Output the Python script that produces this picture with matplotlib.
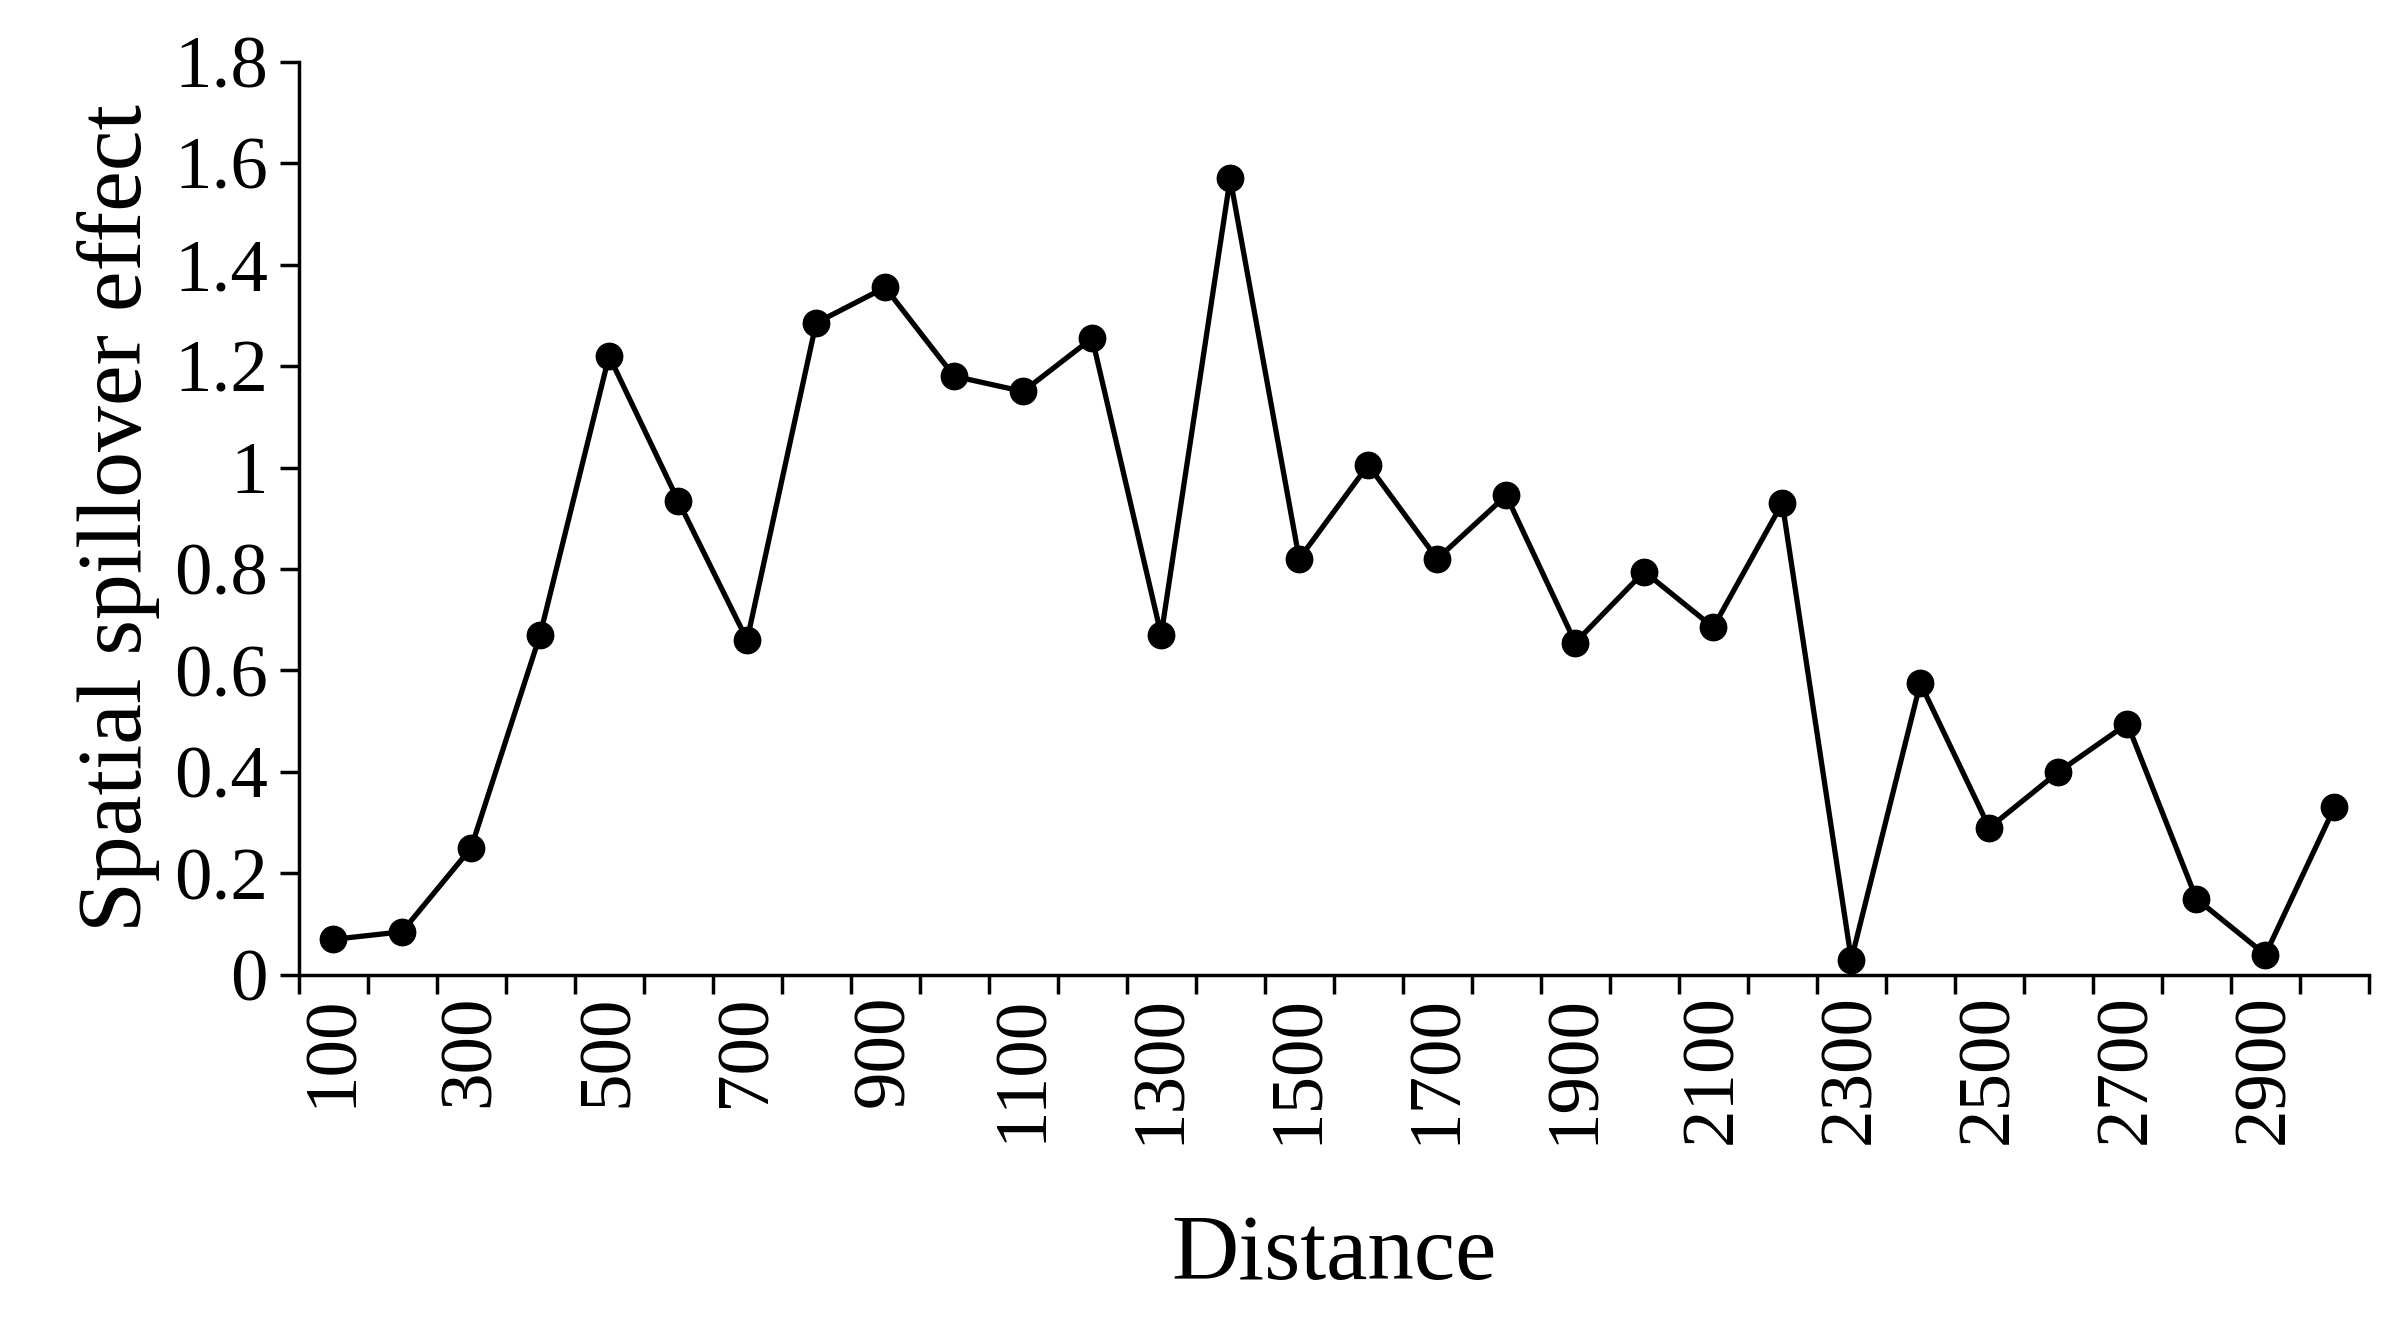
import matplotlib
matplotlib.use("Agg")
import matplotlib.pyplot as plt
import numpy as np

distances = [100,200,300,400,500,600,700,800,900,1000,1100,1200,1300,1400,1500,
             1600,1700,1800,1900,2000,2100,2200,2300,2400,2500,2600,2700,2800,2900,3000]
effects = [0.07,0.085,0.25,0.67,1.22,0.935,0.66,1.285,1.355,1.18,1.15,1.255,0.67,1.57,0.82,
           1.005,0.82,0.945,0.655,0.795,0.685,0.93,0.03,0.575,0.29,0.40,0.495,0.15,0.04,0.33]

plt.rcParams['font.family'] = ['Liberation Serif', 'DejaVu Serif']
fig = plt.figure(figsize=(23.88, 13.41), dpi=100)
ax = fig.add_axes([0.125, 0.273, 0.867, 0.681])
x = np.arange(len(distances))
ax.plot(x, effects, color='black', lw=3.8, marker='o', ms=19)
ax.set_xlim(-0.5, len(distances) - 0.5)
ax.set_ylim(0, 1.8)
ax.set_yticks(np.arange(0, 1.81, 0.2))
ax.set_yticklabels(['0', '0.2', '0.4', '0.6', '0.8', '1', '1.2', '1.4', '1.6', '1.8'])
ax.set_xticks(x[::2])
ax.set_xticklabels([str(d) for d in distances[::2]], rotation=90)
ax.set_xticks(np.arange(-0.5, len(distances)), minor=True)
ax.tick_params(axis='x', which='major', length=0, labelsize=54, pad=14)
ax.tick_params(axis='x', which='minor', length=14, width=2.5, direction='out')
ax.tick_params(axis='y', length=14, width=2.5, labelsize=54, pad=8)
for s in ['top', 'right']:
    ax.spines[s].set_visible(False)
for s in ['left', 'bottom']:
    ax.spines[s].set_linewidth(2.5)
ax.set_xlabel('Distance', fontsize=67, labelpad=50)
ax.set_ylabel('Spatial spillover effect', fontsize=66, labelpad=10)
fig.savefig('out.png', dpi=100)
